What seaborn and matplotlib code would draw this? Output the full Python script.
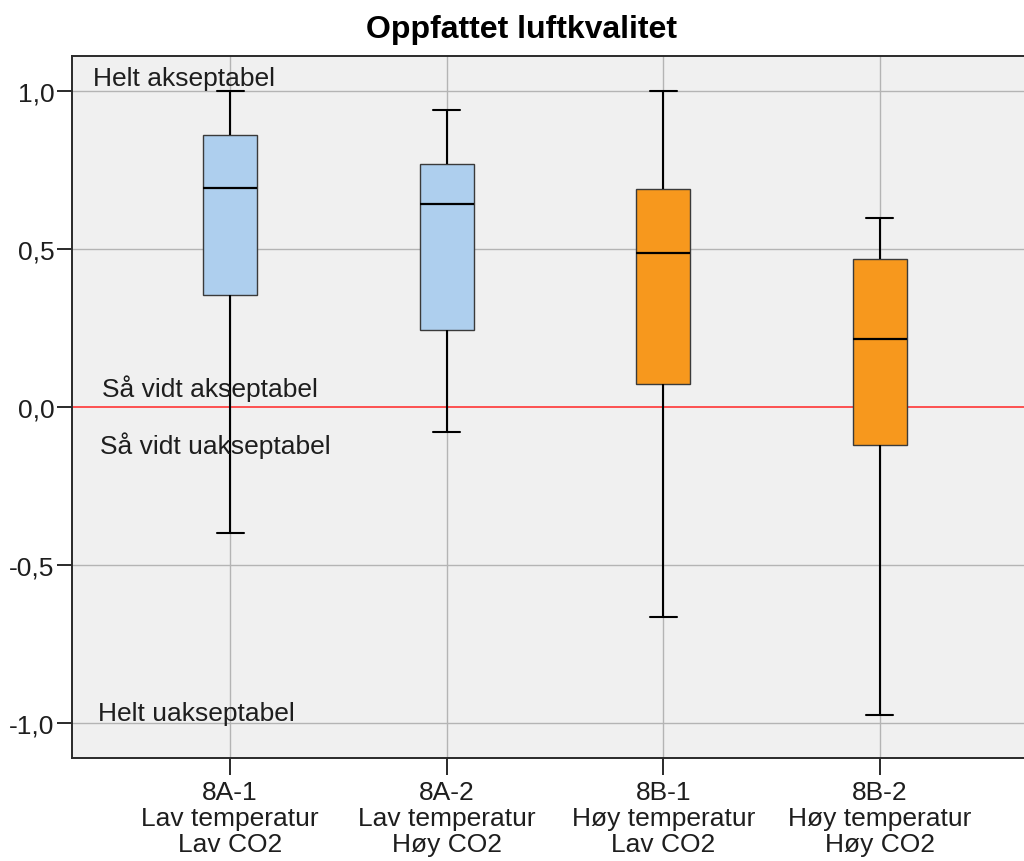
import pandas as pd
import matplotlib
matplotlib.use("Agg")
import matplotlib.pyplot as plt
import seaborn as sns

# Five-number summaries (min, Q1, median, Q3, max)
groups = ["8A-1", "8A-2", "8B-1", "8B-2"]
tick_labels = [
    "8A-1\nLav temperatur\nLav CO2",
    "8A-2\nLav temperatur\nHøy CO2",
    "8B-1\nHøy temperatur\nLav CO2",
    "8B-2\nHøy temperatur\nHøy CO2",
]
vals_8a1 = [-0.40, 0.355, 0.695, 0.862, 1.00]
vals_8a2 = [-0.08, 0.245, 0.643, 0.770, 0.940]
vals_8b1 = [-0.666, 0.073, 0.488, 0.690, 1.00]
vals_8b2 = [-0.976, -0.120, 0.216, 0.469, 0.598]
box_colors = ["#AECFEE", "#AECFEE", "#F7981D", "#F7981D"]

TEXT_COLOR = "#1e1e1e"
FONT_SIZE = 19

df = pd.DataFrame({
    "group": sum([[g] * 5 for g in groups], []),
    "value": vals_8a1 + vals_8a2 + vals_8b1 + vals_8b2,
})

sns.set_theme(style="ticks")
plt.rcParams["font.family"] = ["Liberation Sans", "DejaVu Sans"]

fig = plt.figure(figsize=(10.24, 8.62), dpi=100)
ax = fig.add_axes([72 / 1024, 103 / 862, 966 / 1024, 702 / 862])
ax.set_facecolor("#F0F0F0")

sns.boxplot(
    data=df, x="group", y="value", hue="group", palette=box_colors,
    order=groups, hue_order=groups, legend=False, saturation=1,
    width=0.25, whis=(0, 100), linewidth=1.2, ax=ax,
    boxprops={"edgecolor": "#3a3a3a", "linewidth": 1.0},
    medianprops={"color": "black", "linewidth": 1.6},
    whiskerprops={"color": "black", "linewidth": 1.5},
    capprops={"color": "black", "linewidth": 1.5},
)

# grid lines and reference line at 0
ax.set_axisbelow(True)
for y in [-1.0, -0.5, 0.5, 1.0]:
    ax.axhline(y, color="#b4b4b4", lw=1.0, zorder=0)
for x in range(len(groups)):
    ax.axvline(x, color="#b4b4b4", lw=1.0, zorder=0)
ax.axhline(0, color="#FF3535", lw=1.2, zorder=1)

ax.set_xlim(-0.73, 3.73)
ax.set_ylim(-1.1125, 1.1125)
ax.set_yticks([-1.0, -0.5, 0.0, 0.5, 1.0])
ax.set_yticklabels(["-1,0", "-0,5", "0,0", "0,5", "1,0"])
ax.set_xticks(range(len(groups)))
ax.set_xticklabels(tick_labels, linespacing=1.13)
ax.set_xlabel("")
ax.set_ylabel("")

ax.tick_params(axis="y", length=11, width=1.4, pad=1.5, labelsize=FONT_SIZE,
               colors="#2a2a2a", labelcolor=TEXT_COLOR)
ax.tick_params(axis="x", length=12, width=1.4, pad=3.5, labelsize=FONT_SIZE,
               colors="#2a2a2a", labelcolor=TEXT_COLOR)

for side in ["left", "bottom", "top"]:
    ax.spines[side].set_color("#2a2a2a")
    ax.spines[side].set_linewidth(1.4)
ax.spines["right"].set_visible(False)

# zone labels
zone_labels = [
    ("Helt akseptabel", -0.633, 1.021),
    ("Så vidt akseptabel", -0.591, 0.035),
    ("Så vidt uakseptabel", -0.600, -0.146),
    ("Helt uakseptabel", -0.610, -0.992),
]
for txt, x, y in zone_labels:
    ax.text(x, y, txt, fontsize=FONT_SIZE, color=TEXT_COLOR, ha="left", va="baseline")

fig.text(522 / 1024, 1 - 38 / 862, "Oppfattet luftkvalitet", fontsize=23,
         fontweight="bold", color="black", ha="center", va="baseline")

fig.savefig("out.png", dpi=100)
plt.close(fig)
